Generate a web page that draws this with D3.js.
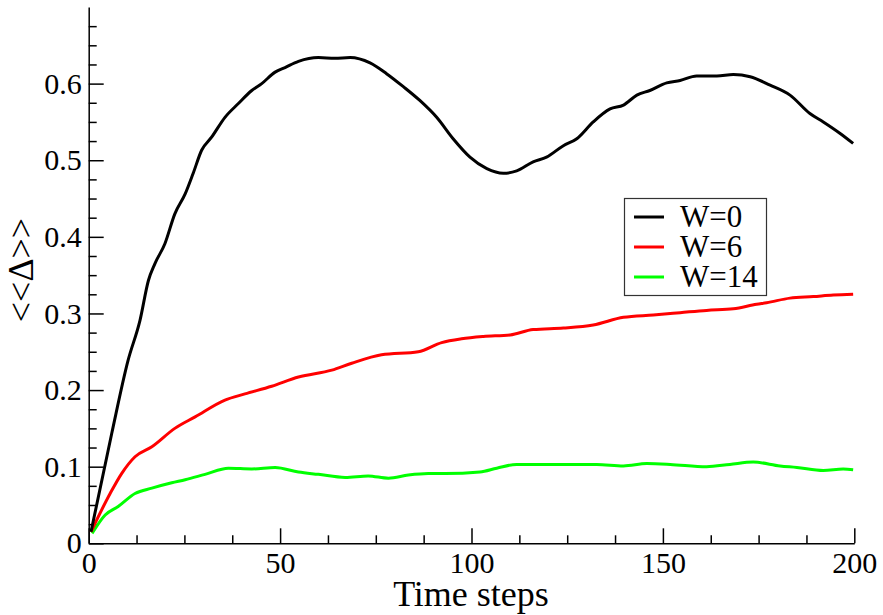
<!DOCTYPE html>
<html>
<head>
<meta charset="utf-8">
<script src="https://cdn.jsdelivr.net/npm/d3@7"></script>
<style>
  body { margin: 0; background: #fff; }
  svg { display: block; font-family: "Liberation Serif", "Times New Roman", Times, serif; }
</style>
</head>
<body>
<svg id="chart" width="883" height="615"></svg>
<script>
'use strict';

// values: time step / <<Delta>>
var stepsW0 = [0.6, 6, 10.3, 13.4, 15.6, 17.3, 19.9, 22.5, 25.2, 27.3, 29.5, 32.1, 35.6, 39.1, 42.6, 45.2, 48.7, 51.3, 54.8, 60, 64.3, 68.3, 73.5, 77.8, 82.2, 86.5, 90.9, 95.2, 99.6, 104, 108.3, 111.8, 116.1, 119.6, 124, 127.5, 131.8, 136.2, 139.7, 143.2, 146.6, 151, 154.5, 158.8, 164.1, 168.4, 172.8, 178, 183.2, 188.4, 191.9, 196.3, 199.7];
var valsW0 = [0.015, 0.143, 0.239, 0.291, 0.343, 0.365, 0.391, 0.430, 0.456, 0.483, 0.513, 0.530, 0.556, 0.574, 0.591, 0.600, 0.615, 0.621, 0.629, 0.634, 0.633, 0.634, 0.627, 0.613, 0.596, 0.578, 0.556, 0.528, 0.504, 0.489, 0.483, 0.486, 0.498, 0.504, 0.519, 0.528, 0.550, 0.567, 0.572, 0.585, 0.591, 0.601, 0.604, 0.610, 0.610, 0.612, 0.609, 0.598, 0.585, 0.561, 0.550, 0.535, 0.522];

var stepsW6 = [0.6, 5.6, 8.6, 12.1, 16.5, 22.5, 27.8, 35.6, 40.8, 47.8, 54.8, 63.5, 68.7, 76.5, 86.1, 92.2, 97.4, 103.1, 110.1, 116.1, 124, 131.8, 139.7, 147.5, 154.5, 161.4, 168.4, 174.5, 177.1, 183.2, 189.3, 194.5, 199.7];
var valsW6 = [0.015, 0.065, 0.091, 0.113, 0.126, 0.150, 0.165, 0.187, 0.195, 0.205, 0.217, 0.226, 0.235, 0.246, 0.250, 0.262, 0.267, 0.270, 0.272, 0.279, 0.281, 0.285, 0.295, 0.298, 0.301, 0.304, 0.306, 0.312, 0.314, 0.320, 0.322, 0.324, 0.325];

var stepsW14 = [0.9, 4.3, 7.7, 12.1, 16.5, 21.7, 25.2, 30.4, 36.5, 42.6, 48.7, 54.8, 60, 67, 73, 78.3, 83.5, 88.7, 93.1, 102.2, 106.6, 111.8, 119.6, 132.7, 139.7, 145.8, 151.9, 161.4, 167.5, 173.6, 180.6, 185, 191.9, 197.1, 199.7];
var valsW14 = [0.013, 0.037, 0.048, 0.065, 0.072, 0.079, 0.083, 0.090, 0.098, 0.097, 0.099, 0.093, 0.090, 0.086, 0.088, 0.085, 0.089, 0.091, 0.091, 0.093, 0.098, 0.103, 0.103, 0.103, 0.101, 0.104, 0.103, 0.100, 0.103, 0.106, 0.101, 0.099, 0.095, 0.097, 0.096];

var seriesNames = ['W=0', 'W=6', 'W=14'];
var seriesColors = ['#000000', '#ff0000', '#00ff00'];

var xMajor = [0, 50, 100, 150, 200];
var yMajor = [0, 0.1, 0.2, 0.3, 0.4, 0.5, 0.6];

var serif = '"Liberation Serif", "Times New Roman", Times, serif';

var svg = d3.select('#chart');

var mLeft = 88.7, mRight = 854.3, mTop = 7, mBottom = 543.3;

var x = d3.scaleLinear().domain([0, 200]).range([mLeft, mRight]);
var y = d3.scaleLinear().domain([0, 0.7]).range([mBottom, mTop]);

var xMinor = d3.range(0, 200.01, 12.5).filter(function (d) { return d % 50 !== 0; });
var yMinor = d3.range(0, 0.7001, 0.025).filter(function (d) {
    return Math.abs(Math.round(d * 10) - d * 10) > 0.001;
});

// minor ticks first
svg.append('g')
    .attr('transform', 'translate(0,' + mBottom + ')')
    .call(d3.axisBottom(x).tickValues(xMinor).tickSizeInner(-8).tickSizeOuter(0).tickFormat(''))
    .call(function (g) { g.select('.domain').remove(); });

svg.append('g')
    .attr('transform', 'translate(' + mLeft + ',0)')
    .call(d3.axisLeft(y).tickValues(yMinor).tickSizeInner(-8).tickSizeOuter(0).tickFormat(''))
    .call(function (g) { g.select('.domain').remove(); });

svg.append('g')
    .attr('class', 'major')
    .attr('transform', 'translate(0,' + mBottom + ')')
    .call(d3.axisBottom(x).tickValues(xMajor).tickSizeInner(-15).tickSizeOuter(0).tickPadding(8).tickFormat(d3.format('d')));

svg.append('g')
    .attr('class', 'major')
    .attr('transform', 'translate(' + mLeft + ',0)')
    .call(d3.axisLeft(y).tickValues(yMajor).tickSizeInner(-15).tickSizeOuter(0).tickPadding(7)
        .tickFormat(function (d) { return d === 0 ? '0' : d3.format('.1f')(d); }));

svg.selectAll('g.major').attr('font-family', serif).attr('font-size', 30);
svg.selectAll('.tick line').attr('stroke', '#000').attr('stroke-width', 1.5);
svg.selectAll('.domain').attr('stroke', '#000').attr('stroke-width', 1.5);
svg.selectAll('.tick text')
    .style('font-family', serif)
    .style('font-size', '30px')
    .attr('fill', '#000');

// axis titles
svg.append('text')
    .attr('x', 471)
    .attr('y', 606)
    .attr('text-anchor', 'middle')
    .style('font-family', serif)
    .style('font-size', '36px')
    .text('Time steps');

svg.append('text')
    .attr('transform', 'translate(33,270) rotate(-90)')
    .attr('text-anchor', 'middle')
    .style('font-family', serif)
    .style('font-size', '36px')
    .text('<<\u0394>>');

// curves
var line = d3.line()
    .x(function (d) { return x(d[0]); })
    .y(function (d) { return y(d[1]); })
    .curve(d3.curveMonotoneX);

var series = [
    d3.zip(stepsW0, valsW0),
    d3.zip(stepsW6, valsW6),
    d3.zip(stepsW14, valsW14)
];

// draw green first so black ends up on top
[2, 1, 0].forEach(function (i) {
    svg.append('path')
        .datum(series[i])
        .attr('fill', 'none')
        .attr('stroke', seriesColors[i])
        .attr('stroke-width', 3)
        .attr('stroke-linejoin', 'round')
        .attr('d', line);
});

// legend
var legend = svg.append('g');
legend.append('rect')
    .attr('x', 624.5).attr('y', 198.5)
    .attr('width', 142).attr('height', 97)
    .attr('fill', '#fff')
    .attr('stroke', '#333')
    .attr('stroke-width', 1.2);

seriesNames.forEach(function (name, i) {
    var ly = 217 + i * 30;
    legend.append('line')
        .attr('x1', 634).attr('x2', 664)
        .attr('y1', ly).attr('y2', ly)
        .attr('stroke', seriesColors[i])
        .attr('stroke-width', 3);
    legend.append('text')
        .attr('x', 680)
        .attr('y', ly + 10)
        .style('font-family', serif)
        .style('font-size', '31px')
        .text(name);
});
</script>
</body>
</html>
